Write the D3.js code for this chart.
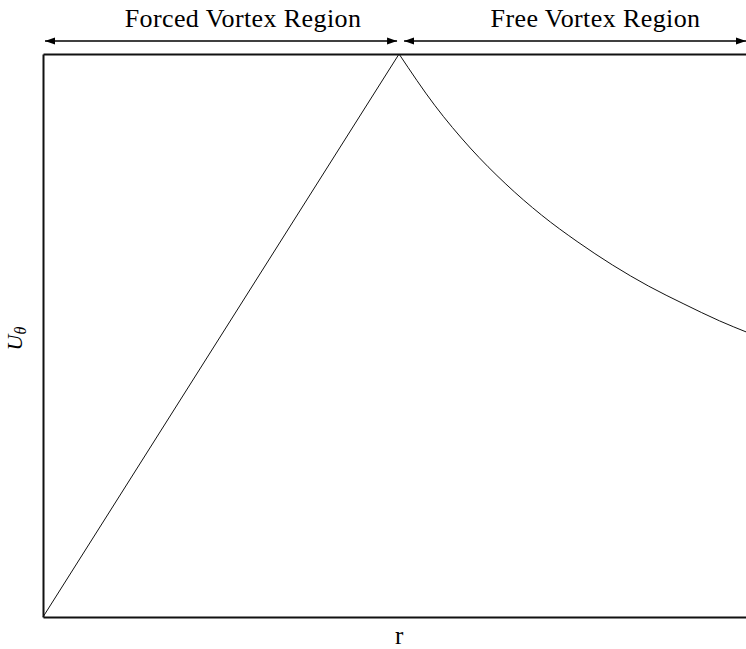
<!DOCTYPE html>
<html>
<head>
<meta charset="utf-8">
<script src="https://cdn.jsdelivr.net/npm/d3@7"></script>
<style>
  body { margin: 0; background: #fff; }
  svg { display: block; }
  text { font-family: "Liberation Serif", "DejaVu Serif", serif; fill: #000; }
</style>
</head>
<body>
<div class="card"></div>
<script>
var margin = {
  top: 54,
  right: 0,
  bottom: 32,
  left: 43
};

var width = 746 - margin.left - margin.right;
var height = 649 - margin.top - margin.bottom;
var plotRight = 705; // frame runs a bit past the window edge

// r in units of the core radius, U in units of the peak velocity
var rMax = 1.98;
var forcedR = [0, 1];
var forcedU = [0, 1];
var freeR = [1, 1.1, 1.2, 1.3, 1.4, 1.5, 1.6, 1.7, 1.8, 1.9, 1.98];
var freeU = [1, 0.909, 0.833, 0.769, 0.714, 0.667, 0.625, 0.588, 0.556, 0.526, 0.505];

var regionLabels = ["Forced Vortex Region", "Free Vortex Region"];
var regionStart = [0, 1];
var regionEnd = [1, rMax];

var svg = d3.select('.card')
  .append('svg')
  .attr('width', width + margin.left + margin.right)
  .attr('height', height + margin.top + margin.bottom)

var defs = svg.append('defs')
defs.append('marker')
  .attr('id', 'head')
  .attr('viewBox', '0 -4 10 8')
  .attr('refX', 10)
  .attr('refY', 0)
  .attr('markerWidth', 10)
  .attr('markerHeight', 8)
  .attr('markerUnits', 'userSpaceOnUse')
  .attr('orient', 'auto-start-reverse')
  .append('path')
  .attr('d', 'M0,-3.5L10,0L0,3.5Z')
  .attr('fill', '#000')

var g = svg.append('g')
  .attr('transform', `translate(${margin.left}, ${margin.top})`)

var xScale = d3.scaleLinear().domain([0, rMax]).range([0, plotRight]);
var yScale = d3.scaleLinear().domain([0, 1]).range([height, 0]);

// frame: bare axes, no ticks
var frame = [
  g.append('g').attr('transform', `translate(0, ${height})`).call(d3.axisBottom(xScale).tickValues([]).tickSizeOuter(0)),
  g.append('g').call(d3.axisTop(xScale).tickValues([]).tickSizeOuter(0)),
  g.append('g').call(d3.axisLeft(yScale).tickValues([]).tickSizeOuter(0))
]
frame.forEach(a => a.select('.domain').attr('stroke', '#111').attr('stroke-width', 2))

var line = d3.line()
  .x(d => xScale(d[0]))
  .y(d => yScale(d[1]))

g.append('path')
  .datum(d3.zip(forcedR, forcedU))
  .attr('d', line)
  .attr('fill', 'none')
  .attr('stroke', '#111')
  .attr('stroke-width', 1)

g.append('path')
  .datum(d3.zip(freeR, freeU))
  .attr('d', line.curve(d3.curveMonotoneX))
  .attr('fill', 'none')
  .attr('stroke', '#111')
  .attr('stroke-width', 1)

// region arrows + labels
var arrowY = -13;
regionLabels.forEach((lbl, i) => {
  var x0 = xScale(regionStart[i]) + (i == 0 ? 2 : 5);
  var x1 = xScale(regionEnd[i]) - 2;
  g.append('line')
    .attr('x1', x0).attr('x2', x1)
    .attr('y1', arrowY).attr('y2', arrowY)
    .attr('stroke', '#000')
    .attr('stroke-width', 1.5)
    .attr('marker-start', 'url(#head)')
    .attr('marker-end', 'url(#head)')
  g.append('text')
    .attr('x', (xScale(regionStart[i]) + xScale(regionEnd[i])) / 2 + 22)
    .attr('y', -27)
    .attr('text-anchor', 'middle')
    .style('font-size', '26px')
    .style('letter-spacing', '0.4px')
    .text(lbl)
})

// axis titles
g.append('text')
  .attr('x', xScale(1))
  .attr('y', height + 27)
  .attr('text-anchor', 'middle')
  .style('font-size', '25px')
  .text('r')

var yt = g.append('text')
  .attr('transform', `translate(-21, ${height / 2 + 3}) rotate(-90)`)
  .attr('text-anchor', 'middle')
  .style('font-size', '22px')
  .style('font-style', 'italic')
yt.append('tspan').text('U')
yt.append('tspan').attr('dy', 4).style('font-size', '16px').text('θ')
</script>
</body>
</html>
